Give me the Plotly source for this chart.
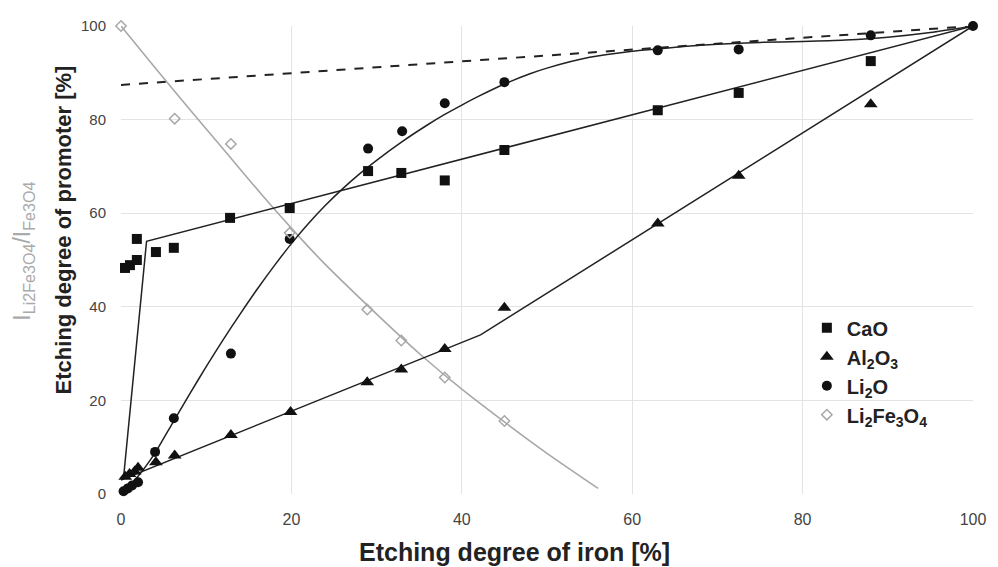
import plotly.graph_objects as go

# ---- data ----
cao_x = [0.47, 1.05, 1.86, 1.86, 4.1, 6.2, 12.8, 19.8, 29.0, 32.9, 38.0, 45.0, 63.0, 72.5, 88.0]
cao_y = [48.3, 48.9, 50.0, 54.5, 51.7, 52.6, 59.0, 61.1, 69.0, 68.6, 67.0, 73.5, 82.0, 85.7, 92.5]
cao_fit_x = [0.3, 3.0, 100]
cao_fit_y = [3.5, 54.0, 100]

al_x = [0.5, 1.0, 1.6, 2.0, 4.1, 6.3, 12.9, 19.9, 28.9, 32.9, 38.0, 45.0, 63.0, 72.5, 88.0]
al_y = [3.7, 4.3, 4.8, 5.6, 6.8, 8.2, 12.6, 17.5, 23.9, 26.6, 31.0, 39.8, 57.8, 68.0, 83.3]
al_fit_x = [0, 42.2, 100]
al_fit_y = [3.0, 34.0, 100]

li_x = [0.3, 0.8, 1.3, 2.0, 4.0, 6.2, 12.9, 19.8, 29.0, 33.0, 38.0, 45.0, 63.0, 72.5, 88.0, 100]
li_y = [0.6, 1.2, 1.8, 2.5, 9.0, 16.2, 30.0, 54.5, 73.8, 77.5, 83.5, 88.0, 94.8, 95.0, 98.0, 100]
li_fit_x = [0, 2, 4, 6, 8, 10, 12, 14, 16, 18, 20, 22, 24, 26, 28, 30, 33, 36, 38, 40,
            42, 45, 48, 50, 55, 60, 63, 66, 70, 75, 80, 85, 90, 95, 100]
li_fit_y = [0, 3.8, 8.8, 15.0, 21.2, 27.2, 33.0, 38.5, 43.8, 48.8, 53.5, 57.8, 61.7, 65.2,
            68.4, 71.3, 75.3, 78.9, 81.1, 83.1, 85.0, 87.6, 89.8, 91.0, 93.3, 94.6, 95.1,
            95.6, 96.1, 96.5, 96.7, 97.0, 97.6, 98.6, 100]

lfo_x = [0, 6.3, 12.9, 19.8, 28.9, 32.9, 38.0, 45.0]
lfo_y = [100, 80.2, 74.8, 55.8, 39.4, 32.8, 24.9, 15.6]
lfo_fit_x = [0, 4, 8, 12, 16.5, 20.9, 24, 28, 32, 35.2, 40, 45, 50, 56]
lfo_fit_y = [100, 91.1, 82.3, 73.7, 64.0, 55.0, 49.0, 41.9, 35.0, 29.7, 22.4, 15.4, 8.7, 1.2]

dash_x = [0, 100]
dash_y = [87.4, 100]

x_ticks = [0, 20, 40, 60, 80, 100]
y_ticks = [0, 20, 40, 60, 80, 100]

FONT = "Liberation Sans, Arial, sans-serif"
BLACK = "#111111"
GRAY = "#a8a8a8"

fig = go.Figure()

# fitted lines (no legend)
fig.add_trace(go.Scatter(x=dash_x, y=dash_y, mode="lines",
                         line=dict(color="#222222", width=2, dash="dash"), showlegend=False))
fig.add_trace(go.Scatter(x=lfo_fit_x, y=lfo_fit_y, mode="lines",
                         line=dict(color=GRAY, width=1.6, shape="spline", smoothing=0.6),
                         showlegend=False))
fig.add_trace(go.Scatter(x=cao_fit_x, y=cao_fit_y, mode="lines",
                         line=dict(color="#222222", width=1.5), showlegend=False))
fig.add_trace(go.Scatter(x=al_fit_x, y=al_fit_y, mode="lines",
                         line=dict(color="#222222", width=1.5), showlegend=False))
fig.add_trace(go.Scatter(x=li_fit_x, y=li_fit_y, mode="lines",
                         line=dict(color="#222222", width=1.5, shape="spline", smoothing=0.6),
                         showlegend=False))

# markers
fig.add_trace(go.Scatter(x=cao_x, y=cao_y, mode="markers", name="<b>CaO</b>",
                         cliponaxis=False,
                         marker=dict(symbol="square", size=10, color=BLACK)))
fig.add_trace(go.Scatter(x=al_x, y=al_y, mode="markers",
                         name="<b>Al<sub>2</sub>O<sub>3</sub></b>", cliponaxis=False,
                         marker=dict(symbol="triangle-up", size=12, color=BLACK)))
fig.add_trace(go.Scatter(x=li_x, y=li_y, mode="markers",
                         name="<b>Li<sub>2</sub>O</b>", cliponaxis=False,
                         marker=dict(symbol="circle", size=10, color=BLACK)))
fig.add_trace(go.Scatter(x=lfo_x, y=lfo_y, mode="markers",
                         name="<b>Li<sub>2</sub>Fe<sub>3</sub>O<sub>4</sub></b>",
                         cliponaxis=False,
                         marker=dict(symbol="diamond-open", size=8, color=GRAY,
                                     line=dict(width=1.5, color=GRAY))))

fig.update_layout(
    width=998, height=567,
    margin=dict(l=121, r=19, t=26, b=73),
    paper_bgcolor="white", plot_bgcolor="white",
    font=dict(family=FONT, size=15, color="#444444"),
    xaxis=dict(range=[0, 100], tickvals=x_ticks, showgrid=True, gridcolor="#e3e3e3",
               gridwidth=1, zeroline=False, showline=False, ticks="",
               tickfont=dict(size=16, color="#444444"), ticklabelstandoff=14),
    yaxis=dict(range=[0, 100], tickvals=y_ticks, showgrid=True, gridcolor="#e3e3e3",
               gridwidth=1, zeroline=False, showline=False, ticks="",
               tickfont=dict(size=15, color="#444444"), ticklabelstandoff=14),
    legend=dict(x=0.805, y=0.397, xanchor="left", yanchor="top",
                bgcolor="rgba(0,0,0,0)",
                font=dict(size=20, color="#222222", family=FONT),
                itemsizing="trace", tracegroupgap=0),
    annotations=[
        dict(text="<b>Etching degree of iron [%]</b>", x=517, y=552,
             xref="paper", yref="paper", showarrow=False,
             font=dict(size=25, color="#222222")),
        dict(text="<b>Etching degree of promoter [%]</b>", x=63, y=230,
             xref="paper", yref="paper", showarrow=False, textangle=-90,
             font=dict(size=22, color="#222222")),
        dict(text="I<sub>Li2Fe3O4</sub>/I<sub>Fe3O4</sub>", x=22, y=251,
             xref="paper", yref="paper", showarrow=False, textangle=-90,
             font=dict(size=23, color="#aaaaaa")),
    ],
)

# convert pixel positions of the title annotations into paper coordinates
plot_left, plot_w = 121, 998 - 121 - 19
plot_top, plot_h = 26, 567 - 26 - 73
for ann in fig.layout.annotations:
    px, py = ann.x, ann.y
    ann.x = (px - plot_left) / plot_w
    ann.y = 1 - (py - plot_top) / plot_h
    ann.xanchor = "center"
    ann.yanchor = "middle"

fig.write_html("out.html")
